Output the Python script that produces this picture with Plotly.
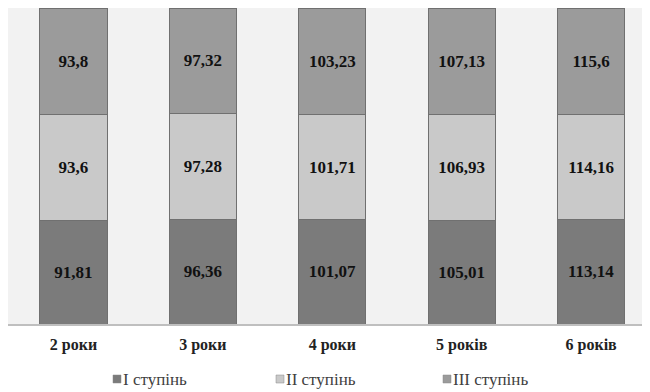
import plotly.graph_objects as go

categories = ["2 роки", "3 роки", "4 роки", "5 років", "6 років"]
stage1 = [91.81, 96.36, 101.07, 105.01, 113.14]
stage2 = [93.6, 97.28, 101.71, 106.93, 114.16]
stage3 = [93.8, 97.32, 103.23, 107.13, 115.6]
series_names = ["І ступінь", "ІІ ступінь", "ІІІ ступінь"]
colors = ["#7b7b7b", "#c9c9c9", "#9b9b9b"]
legend_px = [113, 276, 443]  # legend square left edges (screen pixels)

SERIF = "Liberation Serif"
OFF = 8  # page body margin

def fmt(v):
    return ("%g" % v).replace(".", ",")

W, H = 642, 384
L, R, T, B = 0, 0, 0, 68
pw, ph = W - L - R, H - T - B

fig = go.Figure()
for name, vals, col in zip(series_names, [stage1, stage2, stage3], colors):
    fig.add_trace(go.Bar(
        x=categories, y=vals, name=name,
        marker=dict(color=col, line=dict(color="#707070", width=1)),
        text=[fmt(v) for v in vals],
        textposition="inside", insidetextanchor="middle",
        textfont=dict(family=SERIF, size=17, color="#111111", weight="bold"),
        width=0.52,
    ))

def px2x(px):
    return (px - OFF - L) / pw

def py2y(py):
    return (H - B - (py - OFF)) / ph

shapes, annots = [], []
for name, col, lx in zip(series_names, colors, legend_px):
    shapes.append(dict(type="rect", xref="paper", yref="paper",
                       x0=px2x(lx), x1=px2x(lx + 8), y0=py2y(383), y1=py2y(375),
                       fillcolor=col, line=dict(color="#8a8a8a", width=0.5)))
    annots.append(dict(xref="paper", yref="paper", x=px2x(lx + 8), y=py2y(379.5),
                       xanchor="left", yanchor="middle", showarrow=False, text=name,
                       font=dict(family=SERIF, size=17, color="#404040")))

fig.update_layout(
    barmode="stack", barnorm="percent",
    width=W, height=H,
    margin=dict(l=L, r=R, t=T, b=B, autoexpand=False),
    plot_bgcolor="#f2f2f2", paper_bgcolor="white",
    showlegend=False,
    font=dict(family=SERIF),
    uniformtext=dict(minsize=8, mode="show"),
    shapes=shapes, annotations=annots,
)
fig.update_xaxes(range=[-0.506, 4.455], showgrid=False, showline=True, linecolor="#bfbfbf", linewidth=2,
                 tickfont=dict(family=SERIF, size=16, color="#222222", weight="bold"),
                 ticks="", ticklabelstandoff=5)
fig.update_yaxes(range=[0, 100], showgrid=False, showticklabels=False, zeroline=False)

fig.write_html("out.html")
